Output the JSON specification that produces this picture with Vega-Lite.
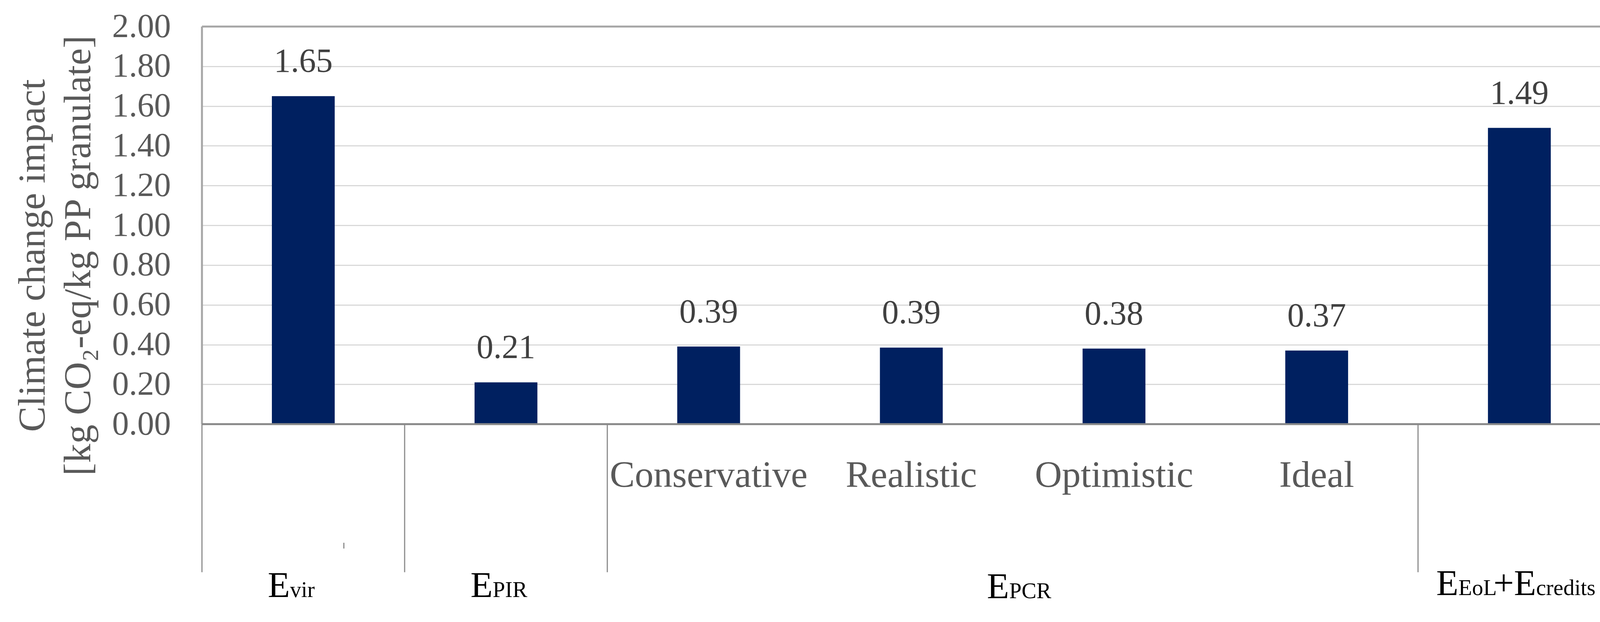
{
  "$schema": "https://vega.github.io/schema/vega-lite/v6.json",
  "width": 3632,
  "height": 1488,
  "autosize": {"type": "none"},
  "padding": {"left": 517, "top": 68, "right": 31, "bottom": 1},
  "background": "white",
  "config": {"view": {"stroke": null}},
  "resolve": {"axis": {"y": "independent", "x": "independent"}},
  "datasets": {
    "bars": [
      {"cat": "Evir", "value": 1.65, "sub": ""},
      {"cat": "EPIR", "value": 0.21, "sub": ""},
      {"cat": "Conservative", "value": 0.39, "sub": "Conservative"},
      {"cat": "Realistic", "value": 0.385, "sub": "Realistic"},
      {"cat": "Optimistic", "value": 0.38, "sub": "Optimistic"},
      {"cat": "Ideal", "value": 0.37, "sub": "Ideal"},
      {"cat": "EEoL", "value": 1.49, "sub": ""}
    ],
    "labels": [
      {"cat": "Evir", "label": "1.65", "value": 1.65},
      {"cat": "EPIR", "label": "0.21", "value": 0.21},
      {"cat": "Conservative", "label": "0.39", "value": 0.39},
      {"cat": "Realistic", "label": "0.39", "value": 0.385},
      {"cat": "Optimistic", "label": "0.38", "value": 0.38},
      {"cat": "Ideal", "label": "0.37", "value": 0.37},
      {"cat": "EEoL", "label": "1.49", "value": 1.49}
    ],
    "seps": [
      {"cat": "Evir"},
      {"cat": "EPIR"},
      {"cat": "Conservative"},
      {"cat": "EEoL"}
    ],
    "simple": [
      {"cat": "Evir", "main": "E", "sub": "vir"},
      {"cat": "EPIR", "main": "E", "sub": "PIR"}
    ]
  },
  "layer": [
    {
      "data": {"name": "bars"},
      "mark": {"type": "bar", "color": "#002060", "width": {"band": 0.31}},
      "encoding": {
        "x": {"field": "cat", "type": "nominal", "sort": null,
          "scale": {"domain": ["Evir", "EPIR", "Conservative", "Realistic", "Optimistic", "Ideal", "EEoL"], "paddingInner": 0, "paddingOuter": 0},
          "axis": null},
        "y": {"field": "value", "type": "quantitative",
          "scale": {"domain": [-0.923, 2], "nice": false, "zero": false},
          "axis": {
            "orient": "left",
            "values": [0, 0.2, 0.4, 0.6, 0.8, 1.0, 1.2, 1.4, 1.6, 1.8, 2.0],
            "format": ".2f",
            "domain": false, "ticks": false,
            "grid": true, "gridColor": "#D9D9D9", "gridWidth": 3,
            "labelFont": "Liberation Serif", "labelFontSize": 86, "labelColor": "#595959",
            "labelPadding": 80,
            "title": ["Climate change impact", "[kg CO₂-eq/kg PP granulate]"],
            "titleFont": "Liberation Serif", "titleFontSize": 98, "titleFontWeight": "normal",
            "titleColor": "#595959", "titleLineHeight": 117, "titleBaseline": "bottom",
            "titleAngle": 270, "titleAlign": "center",
            "titleX": -383, "titleY": 586
          }
        }
      }
    },
    {
      "data": {"name": "labels"},
      "mark": {"type": "text", "font": "Liberation Serif", "fontSize": 86, "color": "#404040", "baseline": "alphabetic", "dy": -62},
      "encoding": {
        "x": {"field": "cat", "type": "nominal", "axis": null},
        "y": {"field": "value", "type": "quantitative", "axis": null},
        "text": {"field": "label"}
      }
    },
    {
      "data": {"values": [{}]},
      "mark": {"type": "rule", "color": "#A6A6A6", "strokeWidth": 5},
      "encoding": {"y": {"datum": 2, "type": "quantitative", "axis": null}}
    },
    {
      "data": {"name": "seps"},
      "mark": {"type": "rule", "color": "#8C8C8C", "strokeWidth": 3},
      "encoding": {
        "x": {"field": "cat", "type": "nominal", "bandPosition": 0, "axis": null},
        "y": {"datum": 0, "type": "quantitative", "axis": null},
        "y2": {"datum": -0.745}
      }
    },
    {
      "data": {"values": [{"cat": "EEoL"}]},
      "mark": {"type": "rule", "color": "#8C8C8C", "strokeWidth": 3},
      "encoding": {
        "x": {"field": "cat", "type": "nominal", "bandPosition": 1, "axis": null},
        "y": {"datum": 0, "type": "quantitative", "axis": null},
        "y2": {"datum": -0.745}
      }
    },
    {
      "data": {"values": [{"cat": "Evir"}]},
      "mark": {"type": "rule", "color": "#8C8C8C", "strokeWidth": 3},
      "encoding": {
        "x": {"field": "cat", "type": "nominal", "bandPosition": 0.7, "axis": null},
        "y": {"datum": -0.597, "type": "quantitative", "axis": null},
        "y2": {"datum": -0.626}
      }
    },
    {
      "data": {"values": [{"cat": "Evir"}]},
      "mark": {"type": "rule", "color": "#A6A6A6", "strokeWidth": 5},
      "encoding": {
        "x": {"field": "cat", "type": "nominal", "bandPosition": 0, "axis": null},
        "y": {"datum": 0, "type": "quantitative", "axis": null},
        "y2": {"datum": 2}
      }
    },
    {
      "data": {"values": [{"cat": "EEoL"}]},
      "mark": {"type": "rule", "color": "#A6A6A6", "strokeWidth": 5},
      "encoding": {
        "x": {"field": "cat", "type": "nominal", "bandPosition": 1, "axis": null},
        "y": {"datum": 0, "type": "quantitative", "axis": null},
        "y2": {"datum": 2}
      }
    },
    {
      "data": {"values": [{}]},
      "mark": {"type": "rule", "color": "#898989", "strokeWidth": 5},
      "encoding": {"y": {"datum": 0, "type": "quantitative", "axis": null}}
    },
    {
      "data": {"name": "bars"},
      "mark": {"type": "text", "font": "Liberation Serif", "fontSize": 96, "color": "#595959", "baseline": "alphabetic"},
      "encoding": {
        "x": {"field": "cat", "type": "nominal", "axis": null},
        "y": {"datum": -0.3167, "type": "quantitative", "axis": null},
        "text": {"field": "sub"}
      }
    },
    {
      "data": {"name": "simple"},
      "mark": {"type": "text", "font": "Liberation Serif", "fontSize": 93, "color": "#000000", "baseline": "alphabetic", "align": "right", "dx": -34},
      "encoding": {
        "x": {"field": "cat", "type": "nominal", "axis": null},
        "y": {"datum": -0.8695, "type": "quantitative", "axis": null},
        "text": {"field": "main"}
      }
    },
    {
      "data": {"name": "simple"},
      "mark": {"type": "text", "font": "Liberation Serif", "fontSize": 57, "color": "#000000", "baseline": "alphabetic", "align": "left", "dx": -34},
      "encoding": {
        "x": {"field": "cat", "type": "nominal", "axis": null},
        "y": {"datum": -0.8695, "type": "quantitative", "axis": null},
        "text": {"field": "sub"}
      }
    },
    {
      "data": {"values": [{"cat": "Realistic", "main": "E", "sub": "PCR"}]},
      "mark": {"type": "text", "font": "Liberation Serif", "fontSize": 93, "color": "#000000", "baseline": "alphabetic", "align": "right", "dx": -9},
      "encoding": {
        "x": {"field": "cat", "type": "nominal", "bandPosition": 1, "axis": null},
        "y": {"datum": -0.875, "type": "quantitative", "axis": null},
        "text": {"field": "main"}
      }
    },
    {
      "data": {"values": [{"cat": "Realistic", "main": "E", "sub": "PCR"}]},
      "mark": {"type": "text", "font": "Liberation Serif", "fontSize": 57, "color": "#000000", "baseline": "alphabetic", "align": "left", "dx": -9},
      "encoding": {
        "x": {"field": "cat", "type": "nominal", "bandPosition": 1, "axis": null},
        "y": {"datum": -0.875, "type": "quantitative", "axis": null},
        "text": {"field": "sub"}
      }
    },
    {
      "data": {"values": [{"cat": "EEoL", "t": "E"}]},
      "mark": {"type": "text", "font": "Liberation Serif", "fontSize": 93, "color": "#000000", "baseline": "alphabetic", "align": "right", "dx": -156},
      "encoding": {
        "x": {"field": "cat", "type": "nominal", "axis": null},
        "y": {"datum": -0.86, "type": "quantitative", "axis": null},
        "text": {"field": "t"}
      }
    },
    {
      "data": {"values": [{"cat": "EEoL", "t": "EoL"}]},
      "mark": {"type": "text", "font": "Liberation Serif", "fontSize": 57, "color": "#000000", "baseline": "alphabetic", "align": "left", "dx": -156},
      "encoding": {
        "x": {"field": "cat", "type": "nominal", "axis": null},
        "y": {"datum": -0.86, "type": "quantitative", "axis": null},
        "text": {"field": "t"}
      }
    },
    {
      "data": {"values": [{"cat": "EEoL", "t": "+E"}]},
      "mark": {"type": "text", "font": "Liberation Serif", "fontSize": 93, "color": "#000000", "baseline": "alphabetic", "align": "right", "dx": 43},
      "encoding": {
        "x": {"field": "cat", "type": "nominal", "axis": null},
        "y": {"datum": -0.86, "type": "quantitative", "axis": null},
        "text": {"field": "t"}
      }
    },
    {
      "data": {"values": [{"cat": "EEoL", "t": "credits"}]},
      "mark": {"type": "text", "font": "Liberation Serif", "fontSize": 57, "color": "#000000", "baseline": "alphabetic", "align": "left", "dx": 43},
      "encoding": {
        "x": {"field": "cat", "type": "nominal", "axis": null},
        "y": {"datum": -0.86, "type": "quantitative", "axis": null},
        "text": {"field": "t"}
      }
    }
  ]
}
